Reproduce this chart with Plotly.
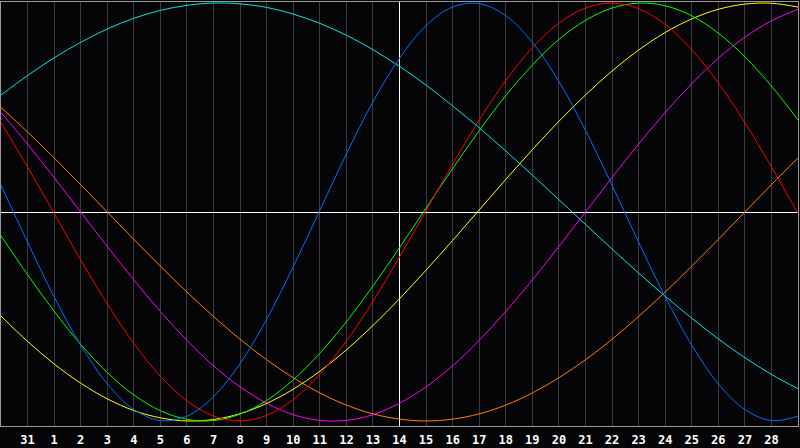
import plotly.graph_objects as go

# day labels across the chart (first and last sit on the border)
days = ["30", "31", "1", "2", "3", "4", "5", "6", "7", "8", "9", "10", "11", "12",
        "13", "14", "15", "16", "17", "18", "19", "20", "21", "22", "23", "24",
        "25", "26", "27", "28", "29"]
today = "14"

# cycle values, one per day
cyan = [0.56, 0.653, 0.738, 0.812, 0.876, 0.927, 0.965, 0.989, 1.0, 0.996, 0.979,
        0.947, 0.903, 0.846, 0.777, 0.697, 0.607, 0.508, 0.403, 0.292, 0.177,
        0.059, -0.059, -0.177, -0.292, -0.403, -0.508, -0.607, -0.697, -0.777, -0.846]
blue = [0.128, -0.144, -0.406, -0.637, -0.822, -0.945, -0.998, -0.977, -0.884,
        -0.725, -0.513, -0.262, 0.008, 0.278, 0.527, 0.736, 0.892, 0.981, 0.997,
        0.94, 0.812, 0.625, 0.391, 0.128, -0.144, -0.406, -0.637, -0.822, -0.945,
        -0.998, -0.977]
red = [0.428, 0.216, -0.007, -0.229, -0.44, -0.629, -0.786, -0.904, -0.976, -1.0,
       -0.973, -0.898, -0.777, -0.618, -0.428, -0.216, 0.007, 0.229, 0.44, 0.629,
       0.786, 0.904, 0.976, 1.0, 0.973, 0.898, 0.777, 0.618, 0.428, 0.216, -0.007]
green = [-0.114, -0.3, -0.475, -0.633, -0.768, -0.875, -0.951, -0.992, -0.998,
         -0.967, -0.902, -0.803, -0.676, -0.525, -0.354, -0.171, 0.019, 0.208,
         0.389, 0.557, 0.703, 0.826, 0.917, 0.976, 1.0, 0.987, 0.939, 0.856, 0.743,
         0.603, 0.441]
yellow = [-0.498, -0.619, -0.727, -0.819, -0.894, -0.95, -0.985, -1.0, -0.993,
          -0.965, -0.916, -0.848, -0.762, -0.66, -0.543, -0.415, -0.278, -0.136,
          0.01, 0.156, 0.298, 0.434, 0.56, 0.675, 0.775, 0.859, 0.924, 0.97, 0.995,
          0.999, 0.981]
magenta = [0.476, 0.325, 0.165, 0.0, -0.165, -0.325, -0.476, -0.614, -0.736,
           -0.837, -0.915, -0.97, -0.997, -0.997, -0.97, -0.915, -0.837, -0.736,
           -0.614, -0.476, -0.325, -0.165, 0.0, 0.165, 0.325, 0.476, 0.614, 0.736,
           0.837, 0.915, 0.97]
orange = [0.5, 0.383, 0.259, 0.131, 0.0, -0.131, -0.259, -0.383, -0.5, -0.609,
          -0.707, -0.793, -0.866, -0.924, -0.966, -0.991, -1.0, -0.991, -0.966,
          -0.924, -0.866, -0.793, -0.707, -0.609, -0.5, -0.383, -0.259, -0.131,
          0.0, 0.131, 0.259]

series = [
    (cyan, "#00e8e8"),
    (orange, "#ff8000"),
    (magenta, "#ff00ff"),
    (yellow, "#ffff00"),
    (green, "#00ff00"),
    (red, "#ff0000"),
    (blue, "#0070ff"),
]

x = list(range(len(days)))
y_range = [-1.024, 1.005]

fig = go.Figure()

# today marker, drawn first so it sits under the curves
t = days.index(today)
fig.add_trace(go.Scatter(x=[t, t], y=y_range, mode="lines",
                         line=dict(color="white", width=1),
                         hoverinfo="skip", showlegend=False))

for vals, col in series:
    fig.add_trace(go.Scatter(x=x, y=vals, mode="lines",
                             line=dict(color=col, width=1, shape="spline"),
                             hoverinfo="skip", showlegend=False))

fig.update_xaxes(range=[0, len(days) - 1], tickvals=x[1:-1], ticktext=days[1:-1],
                 showgrid=True, gridcolor="#3c3c3c", gridwidth=1,
                 zeroline=False, showline=True, mirror=True, linecolor="#9a9a9a",
                 ticklabelstandoff=3,
                 tickfont=dict(family="DejaVu Sans Mono", size=12, color="white",
                               weight="bold"))
fig.update_yaxes(range=y_range, showgrid=False, showticklabels=False,
                 zeroline=True, zerolinecolor="white", zerolinewidth=1,
                 showline=True, mirror=True, linecolor="#9a9a9a")

fig.update_layout(width=800, height=448, margin=dict(l=1, r=1, t=1, b=20),
                  paper_bgcolor="#050508", plot_bgcolor="#050508")

fig.write_html("out.html", config={"displayModeBar": False},
               post_script="document.body.style.margin='0';"
                           "document.body.style.overflow='hidden';")
